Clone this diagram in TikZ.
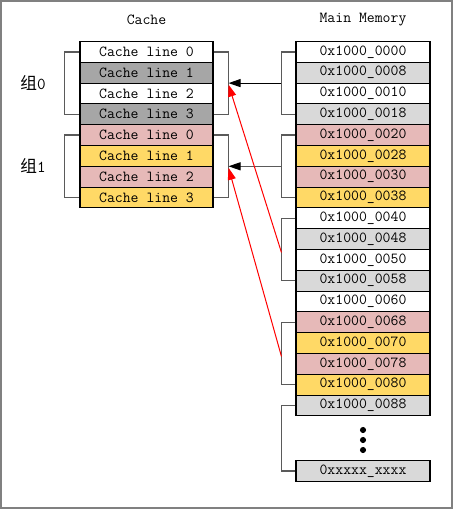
\documentclass[tikz,border=0pt]{standalone}
\usepackage{fontspec}
\newfontfamily\cjk{Noto Sans CJK SC}
\usetikzlibrary{arrows.meta,calc}
\definecolor{cdark}{HTML}{A6A6A6}
\definecolor{cpink}{HTML}{E6B9B8}
\definecolor{cyel}{HTML}{FFD966}
\definecolor{clight}{HTML}{D9D9D9}
\definecolor{brkc}{HTML}{5A5A5A}
\begin{document}
\begin{tikzpicture}[x=0.75pt,y=-0.75pt,
  txt/.style={font=\ttfamily\fontsize{11.5}{12}\selectfont},
  cell/.style={txt,draw=black,line width=0.8pt,minimum width=99.75pt,minimum height=15.6pt,inner sep=0pt},
  mcell/.style={cell,minimum width=100.5pt},
  brk/.style={draw=brkc,line width=1.1pt},
  arr/.style={line width=0.8pt,-{Triangle[length=9pt,width=6pt,color=black]}},
  redarr/.style={draw=red,line width=0.75pt,-{Triangle[length=9pt,width=6pt]}},
  grp/.style={font=\ttfamily\fontsize{12.5}{13}\selectfont}]
\useasboundingbox (0,0) rectangle (454,510);
\draw[draw=gray,line width=1.1pt,fill=white] (1,1) rectangle (452,508);
\node[txt] (tc) at (146.5,20) {Cache};
\node[txt] (tm) at (363,20) {Main Memory};
\foreach \t/\f [count=\i from 0] in {0/white,1/cdark,2/white,3/cdark,0/cpink,1/cyel,2/cpink,3/cyel}
  \node[cell,fill=\f] (c\i) at (146.5,{41.5+20.8*(\i+0.5)}) {Cache line \t};
\foreach \t/\f [count=\i from 0] in {00/white,08/clight,10/white,18/clight,20/cpink,28/cyel,30/cpink,38/cyel,40/white,48/clight,50/white,58/clight,60/white,68/cpink,70/cyel,78/cpink,80/cyel,88/clight}
  \node[mcell,fill=\f] (m\i) at (363,{41.5+20.8*(\i+0.5)}) {0x1000\_00\t};
\node[mcell,fill=clight] (mx) at (363,471.2) {0xxxxx\_xxxx};
\foreach \yy [count=\j] in {430,440,450}
  \fill (363,\yy) circle[radius=2.3pt] node (dot\j) {};
\node[grp] (l0) at (33,83) {{\cjk 组}0};
\node[grp] (l1) at (33,166) {{\cjk 组}1};
% cache brackets
\draw[brk] (c0.west) -- ++(-15,0) |- (c3.west);
\draw[brk] (c4.west) -- ++(-15,0) |- (c7.west);
\draw[brk] (c0.east) -- ++(15,0) |- (c3.east);
\draw[brk] (c4.east) -- ++(15,0) |- (c7.east);
\coordinate (g0) at ($(c0.east)!0.5!(c3.east)+(15,0)$);
\coordinate (g1) at ($(c4.east)!0.5!(c7.east)+(15,0)$);
\coordinate (g0r) at ($(g0)+(0,1.5)$);
\coordinate (g1r) at ($(g1)+(0,1.5)$);
% memory brackets
\draw[brk] (m0.west) -- ++(-14,0) |- (m3.west);
\draw[brk] (m4.west) -- ++(-14,0) |- (m7.west);
\draw[brk] (m8.west) -- ++(-14,0) |- (m11.west);
\draw[brk] (m13.west) -- ++(-14,0) |- (m16.west);
\draw[brk] (m17.west) -- ++(-14,0) |- (mx.west);
\coordinate (a0) at ($(m0.west)!0.5!(m3.west)+(-14,0)$);
\coordinate (a1) at ($(m4.west)!0.5!(m7.west)+(-14,0)$);
\coordinate (a2) at ($(m8.west)!0.5!(m11.west)+(-14,3)$);
\coordinate (a3) at ($(m13.west)!0.5!(m16.west)+(-14,3)$);
\draw[arr,draw=black] (a0) -- (g0);
\draw[arr,draw=brkc] (a1) -- (g1);
\draw[redarr] (a2) -- (g0r);
\draw[redarr] (a3) -- (g1r);
\end{tikzpicture}
\end{document}
